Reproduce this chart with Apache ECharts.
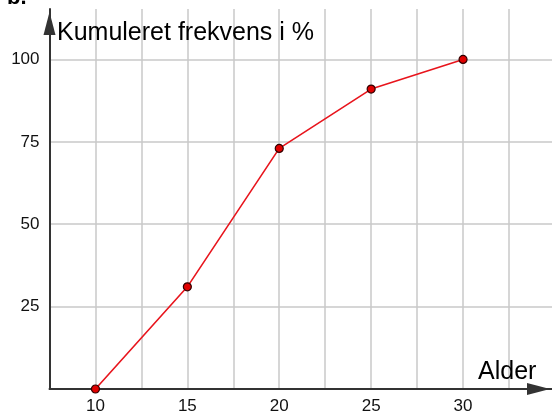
<!DOCTYPE html>
<html><head><meta charset="utf-8">
<script src="https://cdn.jsdelivr.net/npm/echarts@6/dist/echarts.min.js"></script>
<style>html,body{margin:0;padding:0;background:#fff}#c{width:552px;height:418px}</style>
</head><body><div id="c"></div>
<script>
const ages = [10, 15, 20, 25, 30];
const cumulative = [0, 31, 73, 91, 100];
const xLabels = [10, 15, 20, 25, 30];
const yLabels = [25, 50, 75, 100];
const yTitle = 'Kumuleret frekvens i %';
const xTitle = 'Alder';

const chart = echarts.init(document.getElementById('c'), null, {renderer: 'canvas'});
const font = 'Liberation Sans, Arial, sans-serif';
chart.setOption({
  animation: false,
  backgroundColor: '#fff',
  title: [
    {text: 'b.', left: 7, top: -13, padding: 0, textStyle: {fontFamily: font, fontSize: 22, fontWeight: 'bold', color: '#000'}},
    {text: yTitle, left: 57, top: 21, padding: 0, textStyle: {fontFamily: font, fontSize: 25, fontWeight: 'normal', color: '#000'}},
    {text: xTitle, left: 478, top: 360, padding: 0, textStyle: {fontFamily: font, fontSize: 25, fontWeight: 'normal', color: '#000'}}
  ],
  grid: {left: 49.5, right: 0, top: 9, bottom: 29, containLabel: false},
  xAxis: {
    type: 'value', min: 7.5, max: 34.84, interval: 2.5,
    axisLine: {show: true, onZero: false, lineStyle: {color: '#333', width: 2}, symbol: ['none', 'triangle'], symbolSize: [12, 23], symbolOffset: [0, -13.5]},
    axisTick: {show: false},
    splitLine: {show: true, showMinLine: false, showMaxLine: false, lineStyle: {color: '#c8c8c8', width: 1.5}},
    axisLabel: {
      showMinLabel: false, showMaxLabel: false, margin: 9,
      fontFamily: font, fontSize: 17, color: '#111',
      formatter: v => xLabels.indexOf(v) >= 0 ? String(v) : ''
    }
  },
  yAxis: {
    type: 'value', min: 0, max: 115.3, interval: 25,
    axisLine: {show: true, onZero: false, lineStyle: {color: '#333', width: 2}, symbol: ['none', 'triangle'], symbolSize: [12, 23], symbolOffset: [0, -14.5]},
    axisTick: {show: false},
    splitLine: {show: true, showMinLine: false, showMaxLine: false, lineStyle: {color: '#c8c8c8', width: 1.5}},
    axisLabel: {
      showMinLabel: false, showMaxLabel: false, margin: 10,
      fontFamily: font, fontSize: 17, color: '#111',
      formatter: v => yLabels.indexOf(v) >= 0 ? String(v) : ''
    }
  },
  series: [{
    type: 'line',
    data: ages.map((a, i) => [a, cumulative[i]]),
    lineStyle: {color: '#e8141c', width: 1.6},
    symbol: 'circle', symbolSize: 8,
    itemStyle: {color: '#e00000', borderColor: '#300000', borderWidth: 1.2},
    clip: false, z: 5
  }]
});
</script></body></html>
